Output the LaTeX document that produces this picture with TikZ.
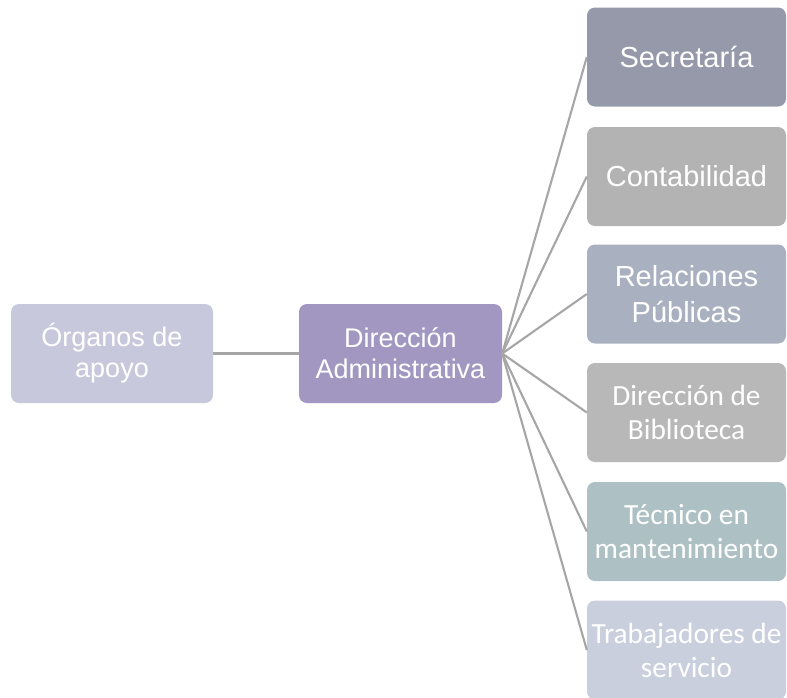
\documentclass[tikz,border=0pt]{standalone}
\usepackage{fontspec}
\newfontfamily\arialf{Liberation Sans}
\newfontfamily\calibrif{Carlito}
\definecolor{cLeft}{HTML}{C8C8DD}
\definecolor{cMid}{HTML}{A197C1}
\definecolor{cSec}{HTML}{9699A9}
\definecolor{cCon}{HTML}{B3B3B3}
\definecolor{cRel}{HTML}{A9B1C0}
\definecolor{cBib}{HTML}{B8B8B8}
\definecolor{cTec}{HTML}{ADC1C5}
\definecolor{cTra}{HTML}{C9CFDC}
\definecolor{cLine}{HTML}{A6A6A6}
\begin{document}
\begin{tikzpicture}[x=1pt,y=-1pt,
  box/.style={rounded corners=8pt, minimum width=202pt, minimum height=99pt, inner sep=0pt, align=center, text=white},
  ar/.style={box, font=\arialf\fontsize{27}{31}\selectfont},
  arr/.style={box, font=\arialf\fontsize{29}{36}\selectfont, minimum width=199pt},
  cal/.style={box, font=\calibrif\fontsize{29.3}{34}\selectfont, minimum width=199pt},
  conn/.style={draw=cLine, line width=2.1pt}]
\useasboundingbox (0,0) rectangle (787,697);
\node[ar, fill=cLeft] (org) at (112,353.5) {Órganos de\\apoyo};
\node[ar, fill=cMid, minimum width=203pt] (dir) at (400.5,353.5) {Dirección\\Administrativa};
\node[arr, fill=cSec] (sec) at (686.5,57) {Secretaría};
\node[arr, fill=cCon] (con) at (686.5,176.5) {Contabilidad};
\node[arr, fill=cRel] (rel) at (686.5,294) {Relaciones\\Públicas};
\node[cal, fill=cBib] (bib) at (686.5,412.5) {Dirección de\\Biblioteca};
\node[cal, fill=cTec] (tec) at (686.5,531.5) {Técnico en\\mantenimiento};
\node[cal, fill=cTra] (tra) at (686.5,650) {Trabajadores de\\servicio};
\draw[conn] (org.east) -- (dir.west);
\foreach \n in {sec,con,rel,bib,tec,tra}{
  \draw[conn] (dir.east) -- (\n.west);
}
\end{tikzpicture}
\end{document}
